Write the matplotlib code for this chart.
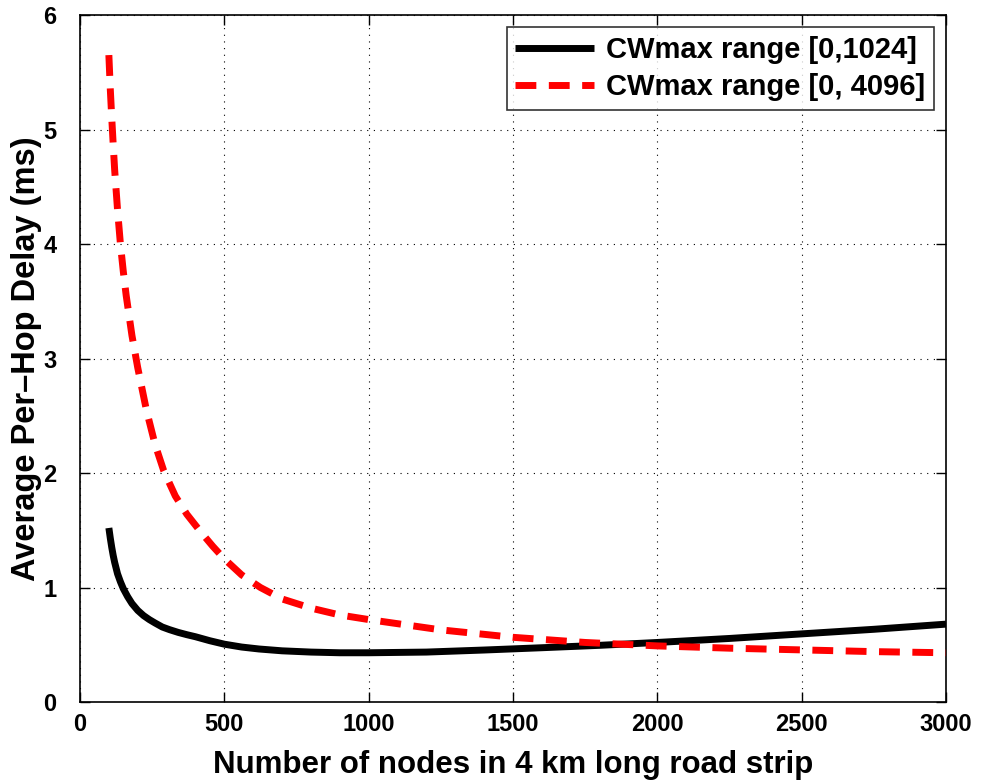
import matplotlib
matplotlib.use("Agg")
import matplotlib.pyplot as plt

# Number of nodes on the road strip vs. average per-hop delay (ms)
nodes_1024 = [100, 105, 110, 115, 120, 130, 140, 150, 165, 180, 200, 220, 240,
              260, 285, 310, 340, 370, 400, 450, 500, 560, 620, 700, 800, 900,
              1000, 1200, 1400, 1600, 1800, 2000, 2250, 2500, 2750, 3000]
delay_1024 = [1.52, 1.43, 1.35, 1.28, 1.22, 1.12, 1.05, 0.99, 0.92, 0.86, 0.80,
              0.755, 0.72, 0.69, 0.655, 0.632, 0.608, 0.588, 0.57, 0.535, 0.505,
              0.48, 0.463, 0.447, 0.436, 0.43, 0.43, 0.436, 0.454, 0.474, 0.495,
              0.52, 0.555, 0.595, 0.635, 0.68]

nodes_4096 = [100, 105, 110, 115, 120, 130, 140, 150, 160, 180, 200, 230, 260,
              290, 330, 370, 420, 460, 500, 560, 625, 700, 800, 900, 1000, 1250,
              1500, 1750, 2000, 2250, 2500, 2750, 3000]
delay_4096 = [5.65, 5.35, 5.10, 4.87, 4.65, 4.30, 4.00, 3.76, 3.55, 3.20, 2.92,
              2.55, 2.25, 2.02, 1.80, 1.64, 1.48, 1.36, 1.25, 1.11, 1.00, 0.90,
              0.82, 0.76, 0.72, 0.63, 0.565, 0.52, 0.49, 0.47, 0.455, 0.44, 0.43]

series_labels = ["CWmax range [0,1024]", "CWmax range [0, 4096]"]
x_ticks = [0, 500, 1000, 1500, 2000, 2500, 3000]
y_ticks = [0, 1, 2, 3, 4, 5, 6]
x_label = "Number of nodes in 4 km long road strip"
y_label = "Average Per\u2013Hop Delay (ms)"

plt.rcParams["font.family"] = ["Liberation Sans", "DejaVu Sans"]
plt.rcParams["font.weight"] = "bold"

fig = plt.figure(figsize=(9.84, 7.82), dpi=100)
ax = fig.add_axes([0.0813, 0.1023, 0.8801, 0.8785])

ax.plot(nodes_1024, delay_1024, color="black", lw=5, solid_capstyle="butt",
        solid_joinstyle="round", label=series_labels[0], zorder=3)
ax.plot(nodes_4096, delay_4096, color="red", lw=5, dashes=(3.0, 1.8),
        dash_capstyle="butt", dash_joinstyle="round",
        label=series_labels[1], zorder=4)

ax.set_xlim(0, 3000)
ax.set_ylim(0, 6)
ax.set_xticks(x_ticks)
ax.set_yticks(y_ticks)
ax.tick_params(direction="in", length=7, width=1, top=True, right=True,
               labelsize=17)
ax.tick_params(axis="x", pad=8)
ax.tick_params(axis="y", pad=17)
for lab in ax.get_xticklabels() + ax.get_yticklabels():
    lab.set_fontweight("bold")

ax.grid(True, color="black", lw=0.8, linestyle=(0, (1, 5)))
for sp in ax.spines.values():
    sp.set_linewidth(1.2)

ax.set_xlabel(x_label, fontsize=22.5, fontweight="bold", labelpad=10)
ax.set_ylabel(y_label, fontsize=23.5, fontweight="bold", labelpad=0.5)

leg = ax.legend(loc="upper right", fontsize=21, handlelength=2.7,
                frameon=True, fancybox=False, borderpad=0.3,
                labelspacing=0.3, handletextpad=0.4, borderaxespad=0.42)
leg.get_frame().set_edgecolor("black")
leg.get_frame().set_linewidth(1.2)
for t in leg.get_texts():
    t.set_fontweight("bold")

fig.savefig("out.png", dpi=100)
